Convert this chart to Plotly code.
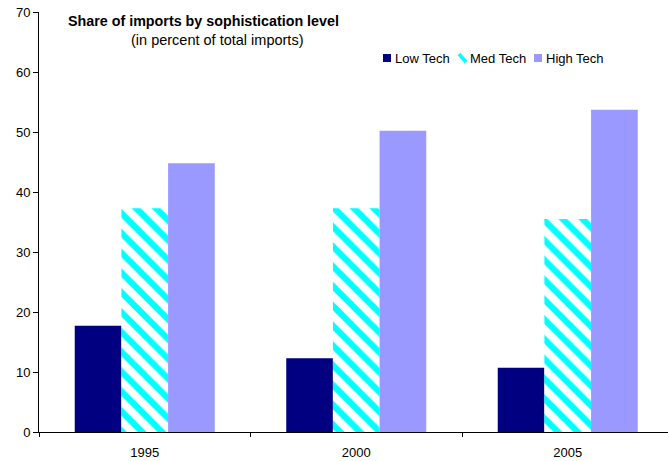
import plotly.graph_objects as go

years = ["1995", "2000", "2005"]
low_tech = [17.7, 12.3, 10.7]
med_tech = [37.3, 37.3, 35.5]
high_tech = [44.8, 50.2, 53.7]
series_names = ["Low Tech", "Med Tech", "High Tech"]

font = "Liberation Sans, Arial, sans-serif"
navy = "#000080"
cyan = "#00ffff"
lavender = "#9999ff"

W, H = 668, 461
L, R, T, B = 39, 0, 12, 29
plot_w = W - L - R
plot_h = H - T - B


def px_x(x):
    return (x - L) / plot_w


def px_y(y):
    return (H - B - y) / plot_h


fig = go.Figure()
fig.add_trace(go.Bar(
    x=years, y=low_tech, name=series_names[0], showlegend=False,
    marker=dict(color=navy, line=dict(width=0)),
))
fig.add_trace(go.Bar(
    x=years, y=med_tech, name=series_names[1], showlegend=False,
    marker=dict(color="#ffffff", line=dict(width=0),
                pattern=dict(shape="\\", fgcolor=cyan, bgcolor="#ffffff",
                             size=14, solidity=0.45, fillmode="replace")),
))
fig.add_trace(go.Bar(
    x=years, y=high_tech, name=series_names[2], showlegend=False,
    marker=dict(color=lavender, line=dict(width=0)),
))

# compact legend row: swatch + label for each series
shapes = []
annotations = []
legend_items = [(383, navy, "square"), (458, cyan, "stripe"), (534, lavender, "square")]
for (x0, col, kind), name in zip(legend_items, series_names):
    if kind == "square":
        shapes.append(dict(type="rect", xref="paper", yref="paper",
                           x0=px_x(x0), x1=px_x(x0 + 8), y0=px_y(62), y1=px_y(54),
                           fillcolor=col, line=dict(width=0)))
    else:
        shapes.append(dict(type="line", xref="paper", yref="paper",
                           x0=px_x(x0 + 1), x1=px_x(x0 + 8), y0=px_y(54), y1=px_y(62),
                           line=dict(color=col, width=3.5)))
    annotations.append(dict(text=name, xref="paper", yref="paper",
                            x=px_x(x0 + 10), y=px_y(58), xanchor="left", yanchor="middle",
                            showarrow=False, font=dict(size=13)))

annotations += [
    dict(text="<b>Share of imports by sophistication level</b>",
         x=px_x(66), y=px_y(21), xref="paper", yref="paper", showarrow=False,
         xanchor="left", yanchor="middle", font=dict(size=14.3)),
    dict(text="(in percent of total imports)",
         x=px_x(129), y=px_y(40), xref="paper", yref="paper", showarrow=False,
         xanchor="left", yanchor="middle", font=dict(size=14.5)),
]

fig.update_layout(
    width=W, height=H,
    margin=dict(l=L, r=R, t=T, b=B),
    paper_bgcolor="white", plot_bgcolor="white",
    barmode="group", bargap=0.338, bargroupgap=0,
    font=dict(family=font, size=13, color="black"),
    showlegend=False,
    xaxis=dict(
        range=[-0.5, 2.474],
        showline=True, linecolor="black", linewidth=1,
        ticks="outside", tickson="boundaries", ticklen=4, tickcolor="black",
        showgrid=False, tickfont=dict(size=13), ticklabelstandoff=8,
    ),
    yaxis=dict(
        range=[0, 70], dtick=10,
        showline=True, linecolor="black", linewidth=1,
        ticks="outside", ticklen=5, tickcolor="black",
        showgrid=False, zeroline=False, tickfont=dict(size=13),
    ),
    shapes=shapes,
    annotations=annotations,
)

fig.write_html("out.html")
